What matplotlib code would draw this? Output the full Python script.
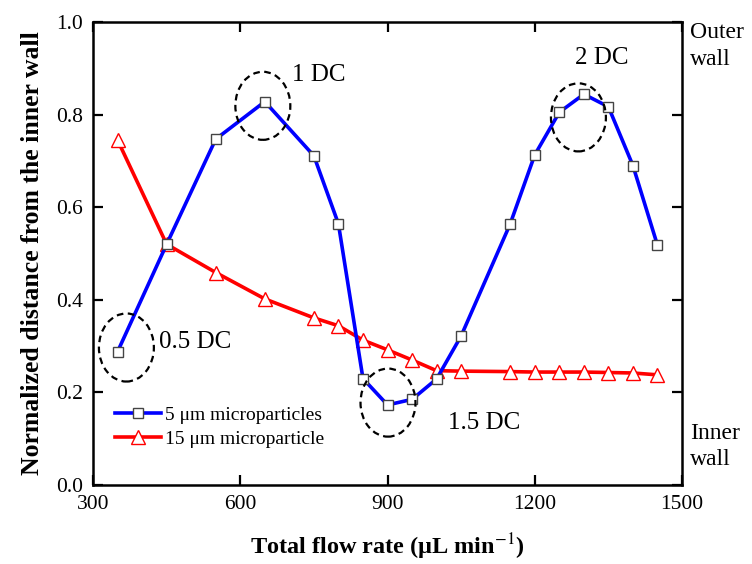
import matplotlib
matplotlib.use('Agg')
import matplotlib.pyplot as plt
from matplotlib.patches import Ellipse

plt.rcParams['font.family'] = ['Liberation Serif', 'DejaVu Serif']
plt.rcParams['mathtext.fontset'] = 'stix'

flow_rate = [350, 450, 550, 650, 750, 800, 850, 900, 950, 1000, 1050,
             1150, 1200, 1250, 1300, 1350, 1400, 1450]
pos_5um = [0.288, 0.520, 0.747, 0.828, 0.711, 0.564, 0.230, 0.173, 0.185,
           0.229, 0.322, 0.564, 0.713, 0.805, 0.844, 0.817, 0.690, 0.518]
pos_15um = [0.745, 0.520, 0.459, 0.402, 0.361, 0.344, 0.313, 0.292, 0.270,
            0.247, 0.246, 0.245, 0.244, 0.244, 0.244, 0.243, 0.242, 0.238]

# dean cycle markers: label, ellipse centre, label position
dc_labels = ['0.5 DC', '1 DC', '1.5 DC', '2 DC']
dc_centres = [(368, 0.297), (646, 0.819), (901, 0.178), (1289, 0.794)]
dc_text_pos = [(508, 0.309), (760, 0.885), (1097, 0.134), (1337, 0.922)]

fig = plt.figure(figsize=(7.52, 5.64), dpi=100)
ax = fig.add_axes([0.1237, 0.140, 0.7832, 0.821])

ax.plot(flow_rate, pos_5um, color='#0000ff', lw=2.6, marker='s', ms=7,
        mfc='white', mec='#444444', mew=1.0, label='5 μm microparticles', zorder=3)
ax.plot(flow_rate, pos_15um, color='#ff0000', lw=2.6, marker='^', ms=9.5,
        mfc='white', mec='#ff0000', mew=1.0, label='15 μm microparticle', zorder=2)

for (cx, cy), lab, (tx, ty) in zip(dc_centres, dc_labels, dc_text_pos):
    ax.add_patch(Ellipse((cx, cy), 112, 0.147, fill=False, ls=(0, (3, 2)),
                         lw=1.6, ec='black', zorder=4))
    ax.text(tx, ty, lab, fontsize=18, ha='center', va='center')

ax.set_xlim(300, 1500)
ax.set_ylim(0, 1.0)
ax.set_xticks([300, 600, 900, 1200, 1500])
ax.set_yticks([0.0, 0.2, 0.4, 0.6, 0.8, 1.0])
ax.set_yticklabels(['0.0', '0.2', '0.4', '0.6', '0.8', '1.0'])
ax.tick_params(direction='in', length=7, width=1.6, labelsize=15.5,
               top=True, right=True, pad=7)
for sp in ax.spines.values():
    sp.set_linewidth(1.8)

ax.set_xlabel('Total flow rate (μL min$^{-1}$)', fontsize=17.5,
              fontweight='bold', labelpad=13)
ax.set_ylabel('Normalized distance from the inner wall', fontsize=18.5,
              fontweight='bold', labelpad=9)

ax.text(1.013, 1.0, 'Outer\nwall', transform=ax.transAxes, fontsize=17,
        ha='left', va='top', linespacing=1.35)
ax.text(1.013, 0.135, 'Inner\nwall', transform=ax.transAxes, fontsize=17,
        ha='left', va='top', linespacing=1.35)

ax.legend(loc='center left', bbox_to_anchor=(0.037, 0.125), frameon=False,
          fontsize=14, handlelength=2.4, handletextpad=0.2,
          labelspacing=0.3, borderpad=0, borderaxespad=0)

fig.savefig('out.png', dpi=100)
